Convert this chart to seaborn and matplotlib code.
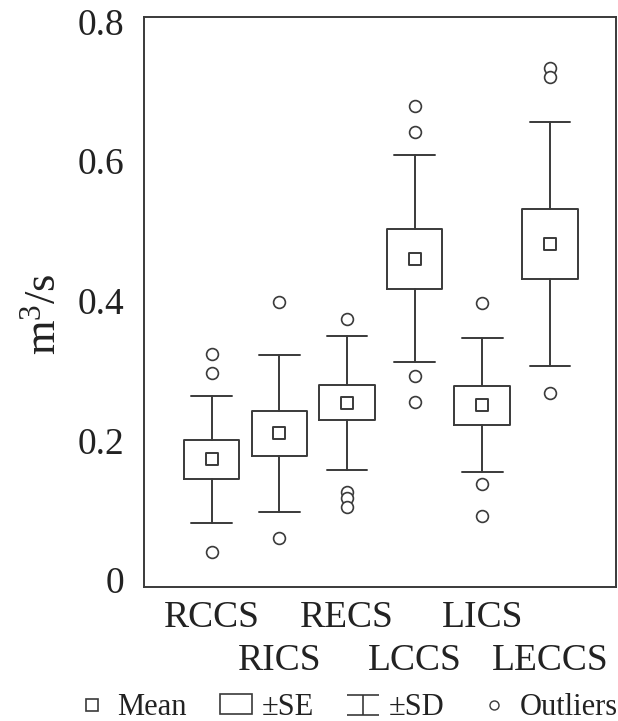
import numpy as np
import pandas as pd
import matplotlib
matplotlib.use("Agg")
import matplotlib.pyplot as plt
from matplotlib.lines import Line2D
from matplotlib.patches import Patch
from matplotlib.path import Path
import seaborn as sns

# values (m^3/s)
sites = ["RCCS", "RICS", "RECS", "LCCS", "LICS", "LECCS"]
means = [0.173, 0.210, 0.254, 0.460, 0.250, 0.481]
se = [0.028, 0.032, 0.025, 0.043, 0.028, 0.050]
sd = [0.091, 0.112, 0.096, 0.148, 0.096, 0.175]
outliers = {
    "RCCS": [0.324, 0.297, 0.040],
    "RICS": [0.398, 0.060],
    "RECS": [0.374, 0.126, 0.117, 0.105],
    "LCCS": [0.679, 0.642, 0.292, 0.255],
    "LICS": [0.397, 0.138, 0.092],
    "LECCS": [0.734, 0.721, 0.268],
}

ink = "#3a3a3a"
txt = "#222222"

sns.set_theme(style="white")
plt.rcParams["font.family"] = ["Liberation Serif", "DejaVu Serif"]
plt.rcParams["mathtext.fontset"] = "custom"
plt.rcParams["mathtext.rm"] = "Liberation Serif"
plt.rcParams["mathtext.it"] = "Liberation Serif:italic"

fig = plt.figure(figsize=(6.18, 7.21), dpi=100)
ax = fig.add_axes([0.233, 0.186, 0.764, 0.791])

# mean +- SE boxes and +- SD whiskers
stats = []
for s, m, e, d in zip(sites, means, se, sd):
    stats.append({"label": s, "med": m, "mean": m, "q1": m - e, "q3": m + e,
                  "whislo": m - d, "whishi": m + d, "fliers": []})
line_kw = dict(color=ink, linewidth=1.4)
ax.bxp(stats, positions=range(len(sites)), widths=0.82, showmeans=False,
       showfliers=False, boxprops=line_kw, whiskerprops=line_kw,
       capprops=line_kw, medianprops=dict(linewidth=0), capwidths=0.6)

# means and outliers
mean_df = pd.DataFrame({"site": sites, "value": means})
out_df = pd.DataFrame([(k, v) for k in sites for v in outliers[k]],
                      columns=["site", "value"])
sns.stripplot(data=mean_df, x="site", y="value", order=sites, jitter=False,
              marker="s", size=8, color="white", edgecolor=ink, linewidth=1.4,
              ax=ax, zorder=5)
sns.stripplot(data=out_df, x="site", y="value", order=sites, jitter=False,
              marker="o", size=8.5, color="white", edgecolor=ink, linewidth=1.2,
              ax=ax, zorder=5)

ax.set_xlim(-1.0, 5.98)
ax.set_ylim(-0.010, 0.807)
ax.set_yticks([0, 0.2, 0.4, 0.6, 0.8])
ax.set_yticklabels(["0", "0.2", "0.4", "0.6", "0.8"], fontsize=27)
# labels staggered on two rows
ax.set_xticks([0, 2, 4])
ax.set_xticklabels(sites[0::2], fontsize=27)
ax.set_xticks([1, 3, 5], minor=True)
ax.set_xticklabels(sites[1::2], minor=True, fontsize=27)
ax.tick_params(axis="y", length=0, pad=14, colors=txt)
ax.tick_params(axis="x", which="major", length=0, pad=10, colors=txt)
ax.tick_params(axis="x", which="minor", length=0, pad=41, colors=txt)
ax.set_xlabel("")
ax.set_ylabel(r"m$^{3}$/s", fontsize=32, color=txt)
ax.yaxis.set_label_coords(-0.168, 0.479)
for sp in ax.spines.values():
    sp.set_color(ink)
    sp.set_linewidth(1.4)

# legend
ibeam = Path([(-1, 0.62), (1, 0.62), (0, 0.62), (0, -0.62), (-1, -0.62), (1, -0.62)],
             [Path.MOVETO, Path.LINETO, Path.MOVETO, Path.LINETO,
              Path.MOVETO, Path.LINETO])
handles = [
    Line2D([], [], ls="", marker="s", ms=8, mfc="white", mec=ink, mew=1.2),
    Patch(facecolor="white", edgecolor=ink, linewidth=1.2),
    Line2D([], [], ls="", marker=ibeam, ms=23, mfc="none", mec=ink, mew=1.2),
    Line2D([], [], ls="", marker="o", ms=6.5, mfc="white", mec=ink, mew=1.0),
]
labels = ["Mean", "±SE", "±SD", "Outliers"]
fig.legend(handles, labels, loc="center", bbox_to_anchor=(0.561, 0.019),
           ncol=4, frameon=False, fontsize=22, handlelength=1.05,
           handleheight=0.6, handletextpad=0.3, columnspacing=1.1,
           borderaxespad=0, labelcolor=txt)

fig.savefig("out.png", dpi=100, facecolor="white")
